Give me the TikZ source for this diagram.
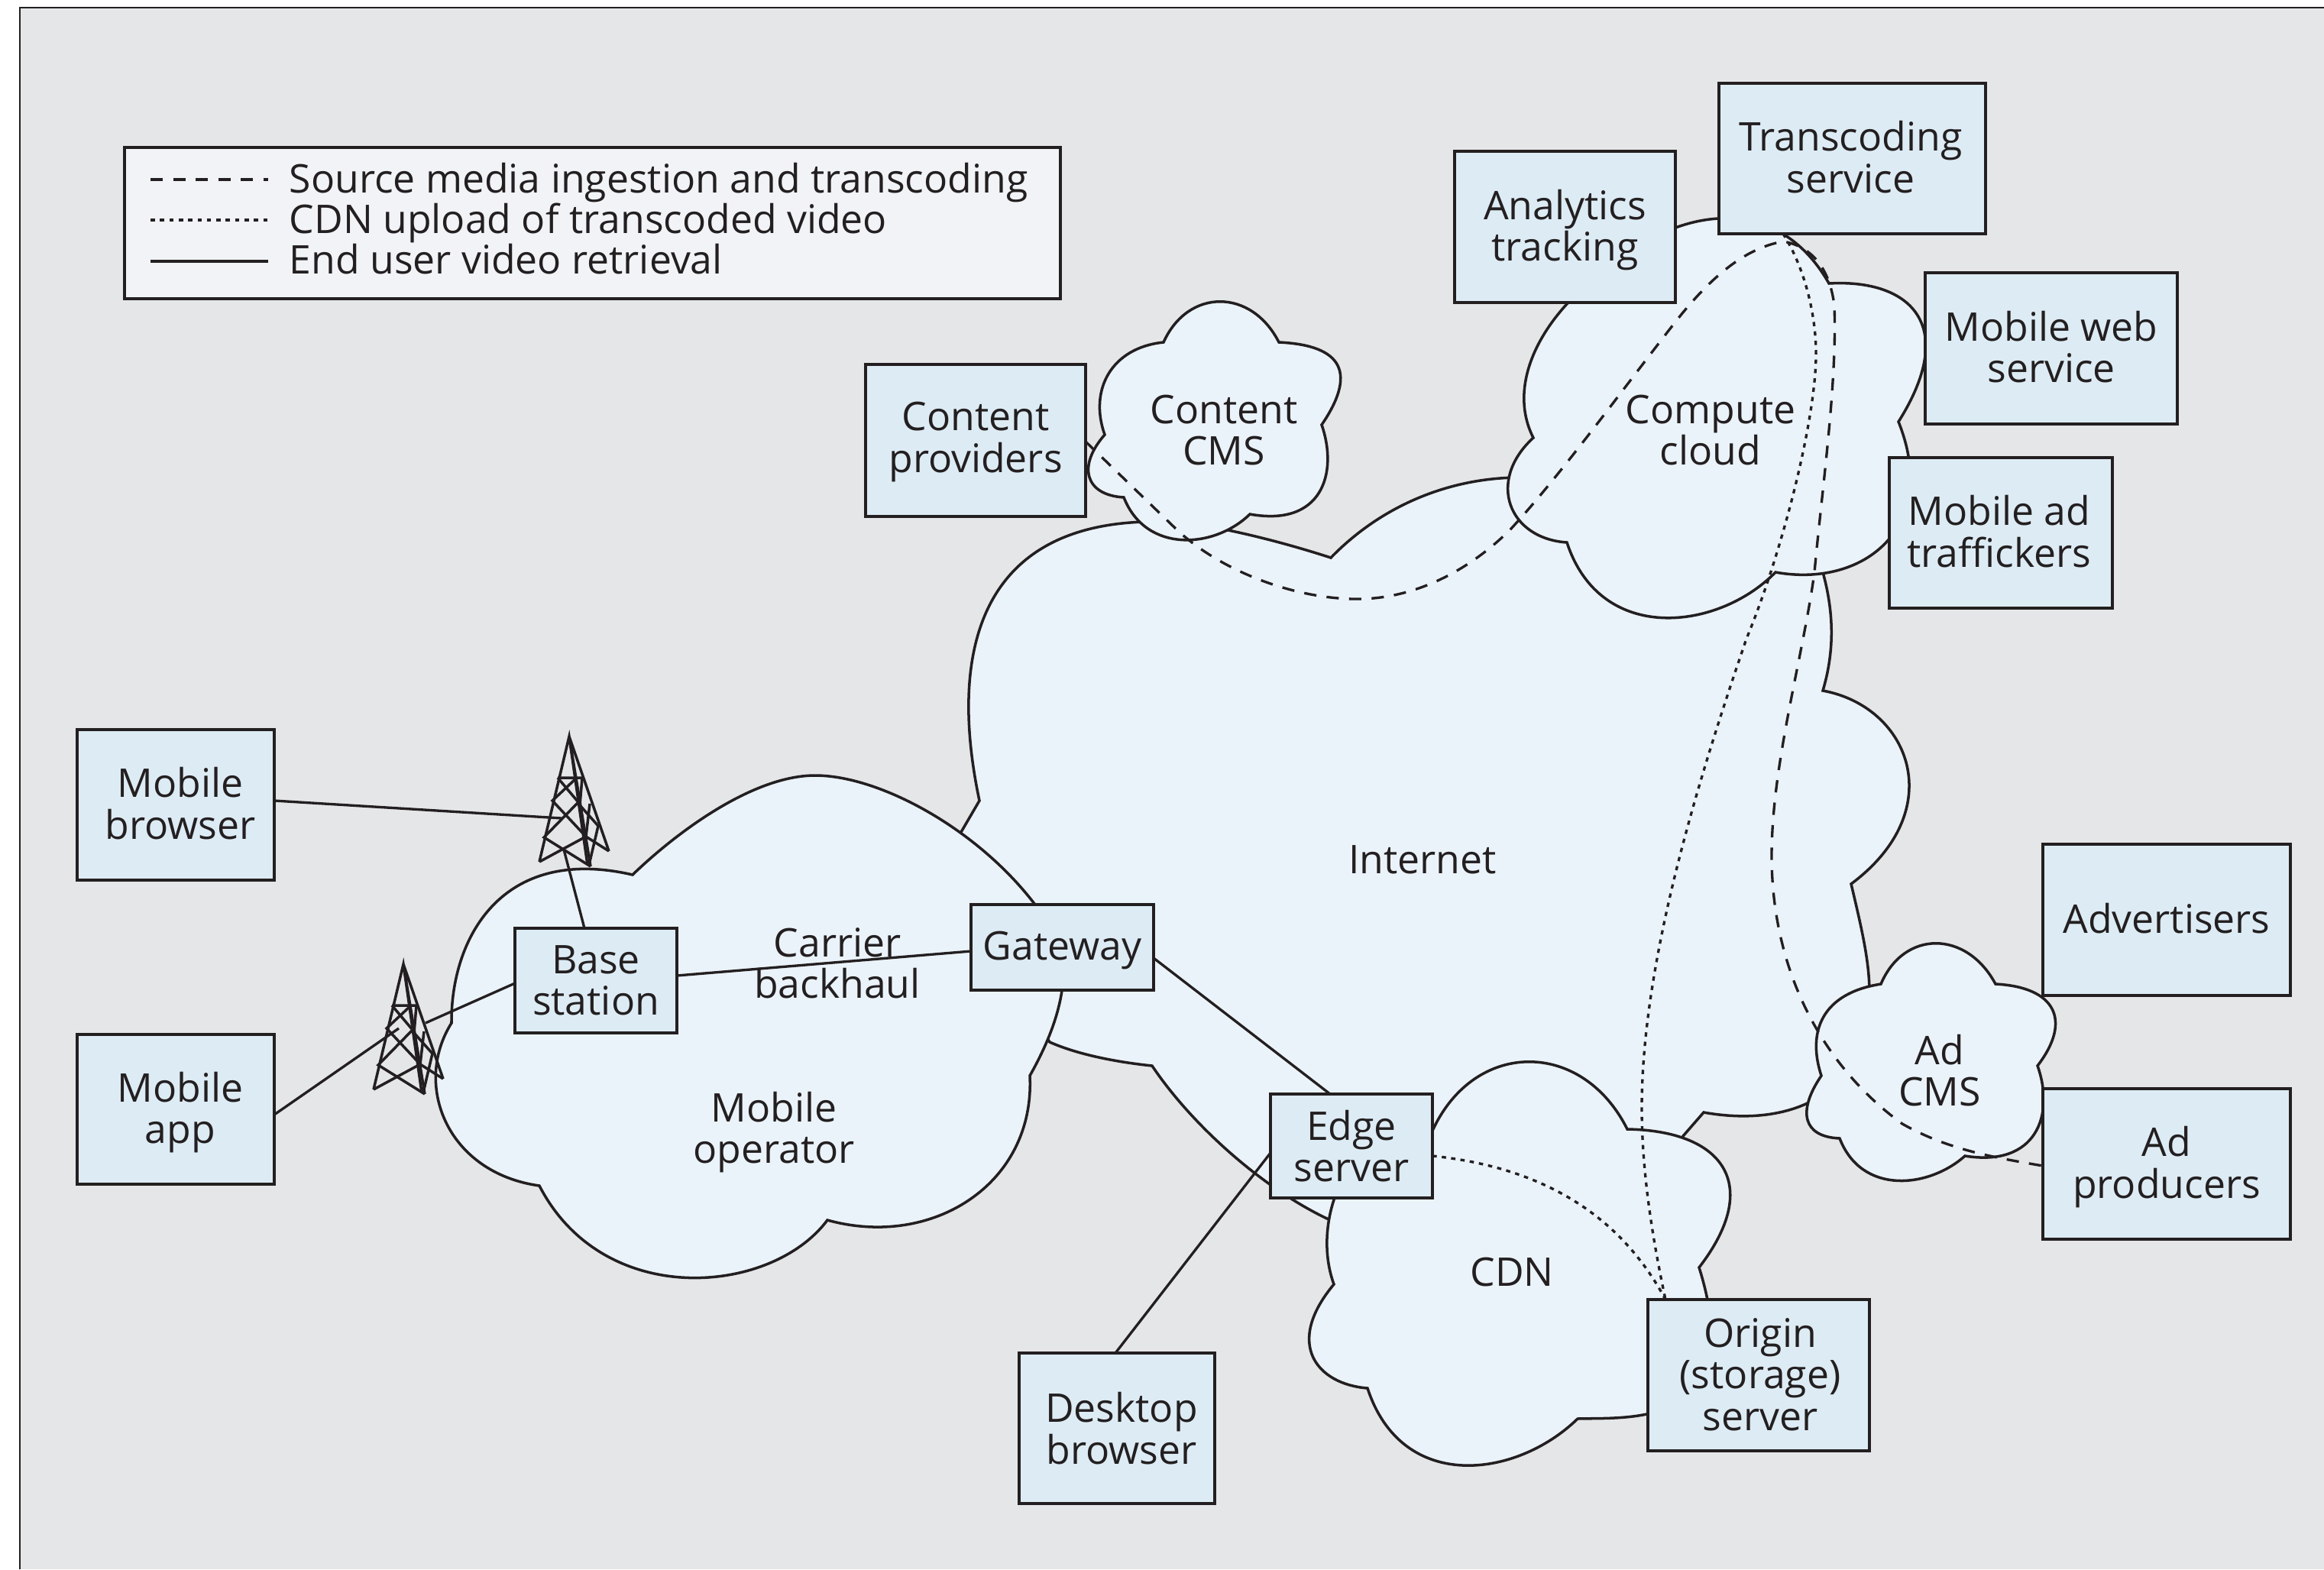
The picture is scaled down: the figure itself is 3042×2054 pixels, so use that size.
\documentclass[tikz,border=0pt]{standalone}
\usepackage{fontspec}
\setmainfont{Open Sans}
\pgfdeclarelayer{cl}\pgfdeclarelayer{conn}
\pgfsetlayers{cl,conn,main}
\definecolor{bgc}{HTML}{E5E6E8}
\definecolor{boxc}{HTML}{DDEBF4}
\definecolor{cloudc}{HTML}{EBF3FA}
\definecolor{legc}{HTML}{F1F3F6}
\definecolor{ink}{HTML}{231F20}
\tikzset{
  x=0.01cm,y=-0.01cm,
  txt/.style={font=\fontsize{14.7}{15.5}\selectfont,text=ink,align=center,inner sep=0pt},
  boxst/.style={draw=ink,fill=boxc,line width=1.15pt,outer sep=0pt,inner sep=0pt},
  cloudst/.style={draw=ink,fill=cloudc,line width=1pt,line join=miter},
  solidln/.style={draw=ink,line width=.95pt},
  dashln/.style={draw=ink,line width=.95pt,dash pattern=on 4.6pt off 3.8pt},
  dotln/.style={draw=ink,line width=.95pt,dash pattern=on 1.6pt off 1.9pt},
  towerln/.style={draw=ink,line width=1pt,line join=miter},
}
\newcommand{\netbox}[8]{\node[boxst,minimum width={(#4-#2)*0.01cm},minimum height={(#5-#3)*0.01cm}] (#1) at ({(#2+#4)/2},{(#3+#5)/2}) {};
\node[txt] (#1t) at ({(#2+#4)/2+#6},{(#3+#5)/2+#7}) {#8};}
\newcommand{\towerdraw}[2]{%
\begin{scope}[shift={(#1,#2)}]
\draw[towerln] (-39,164) -- (0,0) -- (28,170) (0,0) -- (52,150);
\draw[towerln] (0,0) -- (24,168);
\draw[towerln] (-15,54) -- (17,54) (-15,54) -- (12,86) (10,54) -- (-22,84) -- (22,131) -- (-39,164);
\draw[towerln] (12,86) -- (-33,132) -- (28,170);
\draw[towerln] (17,54) -- (14,90) -- (38,117) -- (26,168);
\draw[towerln] (27,88) -- (22,131) -- (52,150);
\end{scope}}
\begin{document}
\begin{tikzpicture}
\useasboundingbox (0,0) rectangle (3042,2054);
\begin{pgfonlayer}{cl}
\fill[white] (0,0) rectangle (3042,2054);
\fill[bgc] (26,10) rectangle (3042,2054);
\draw[ink,line width=.7pt] (26,2054) -- (26,10) -- (3042,10);
% Internet
\draw[cloudst] (1282,1048)
 .. controls (1240,850) and (1280,660) .. (1560,685)
 .. controls (1620,695) and (1680,710) .. (1742,730)
 .. controls (1810,660) and (1900,625) .. (1990,625)
 -- (2386,749)
 .. controls (2400,800) and (2402,850) .. (2386,904)
 .. controls (2500,925) and (2553,1060) .. (2423,1157)
 .. controls (2438,1220) and (2447,1260) .. (2447,1300)
 -- (2400,1420) -- (2370,1442)
 .. controls (2330,1462) and (2280,1465) .. (2230,1456)
 -- (2203,1487) -- (2190,1520) -- (1900,1580) -- (1760,1605)
 .. controls (1670,1570) and (1565,1480) .. (1508,1395)
 .. controls (1460,1390) and (1410,1380) .. (1374,1364)
 -- (1300,1250) -- (1240,1120) -- cycle;
% Mobile operator
\draw[cloudst] (828,1145)
 .. controls (885,1090) and (985,1015) .. (1067,1015)
 .. controls (1165,1015) and (1325,1110) .. (1390,1240)
 .. controls (1400,1300) and (1375,1360) .. (1348,1408)
 .. controls (1355,1550) and (1220,1635) .. (1083,1597)
 .. controls (1010,1695) and (790,1715) .. (706,1552)
 .. controls (585,1535) and (540,1420) .. (591,1339)
 .. controls (590,1230) and (655,1105) .. (828,1145) -- cycle;
% CDN
\draw[cloudst] (1830,1470) -- (1875,1480)
 .. controls (1930,1360) and (2071,1360) .. (2130,1478)
 .. controls (2255,1480) and (2308,1550) .. (2224,1659)
 .. controls (2290,1870) and (2135,1855) .. (2065,1857)
 .. controls (1985,1935) and (1835,1955) .. (1790,1817)
 .. controls (1725,1812) and (1680,1760) .. (1746,1681)
 .. controls (1720,1610) and (1750,1510) .. (1830,1470) -- cycle;
% Ad CMS
\draw[cloudst] (2462,1288)
 .. controls (2492,1217) and (2574,1217) .. (2612,1288)
 .. controls (2690,1292) and (2713,1335) .. (2667,1395)
 .. controls (2690,1460) and (2665,1528) .. (2572,1513)
 .. controls (2525,1555) and (2437,1565) .. (2408,1490)
 .. controls (2360,1488) and (2352,1455) .. (2384,1408)
 .. controls (2365,1350) and (2385,1300) .. (2462,1288) -- cycle;
% Content CMS
\draw[cloudst] (1523,448)
 .. controls (1555,377) and (1638,377) .. (1674,448)
 .. controls (1760,452) and (1775,490) .. (1730,556)
 .. controls (1752,620) and (1730,690) .. (1636,673)
 .. controls (1590,718) and (1500,725) .. (1471,651)
 .. controls (1420,648) and (1410,610) .. (1446,569)
 .. controls (1425,510) and (1455,455) .. (1523,448) -- cycle;
% Compute cloud
\draw[cloudst] (2007,573)
 .. controls (1970,500) and (2020,405) .. (2120,340)
 .. controls (2200,275) and (2325,250) .. (2394,371)
 .. controls (2500,365) and (2565,425) .. (2485,552)
 .. controls (2540,690) and (2440,770) .. (2324,749)
 .. controls (2250,825) and (2095,845) .. (2051,710)
 .. controls (1975,705) and (1945,630) .. (2007,573) -- cycle;
\end{pgfonlayer}
% Boxes
\netbox{tc}{2250}{109}{2599}{306}{-2}{-2}{Transcoding\\service}
\netbox{an}{1904}{198}{2193}{396}{0}{4}{Analytics\\tracking}
\netbox{mw}{2520}{357}{2850}{555}{0}{-2}{Mobile web\\service}
\netbox{ma}{2473}{599}{2765}{796}{-2}{-2}{Mobile ad\\traffickers}
\netbox{cp}{1133}{477}{1421}{676}{0}{2}{Content\\providers}
\netbox{mb}{101}{955}{359}{1152}{6}{-2}{Mobile\\browser}
\netbox{mp}{101}{1354}{359}{1550}{6}{4}{Mobile\\app}
\netbox{bs}{674}{1215}{886}{1352}{0}{0}{Base\\station}
\netbox{gw}{1271}{1184}{1510}{1296}{0}{4}{Gateway}
\netbox{es}{1663}{1432}{1875}{1568}{0}{0}{Edge\\server}
\netbox{db}{1334}{1771}{1590}{1968}{6}{0}{Desktop\\browser}
\netbox{og}{2157}{1701}{2447}{1899}{2}{-1}{Origin\\(storage)\\server}
\netbox{ad}{2674}{1105}{2998}{1303}{0}{-2}{Advertisers}
\netbox{ap}{2674}{1425}{2998}{1622}{0}{4}{Ad\\producers}
% Labels
\node[txt] (linternet) at (1862,1125) {Internet};
\node[txt] (lcompute) at (2239,563) {Compute\\cloud};
\node[txt] (lcms) at (1602,563) {Content\\CMS};
\node[txt] (lback) at (1096,1261) {Carrier\\backhaul};
\node[txt] (lmobile) at (1013,1482) {Mobile\\operator};
\node[txt] (lcdn) at (1979,1665) {CDN};
\node[txt] (ladcms) at (2539,1401) {Ad\\CMS};
% Legend
\node[draw=ink,fill=legc,line width=1.15pt,minimum width=12.25cm,minimum height=1.98cm,inner sep=0pt,outer sep=0pt] (lg) at (775.5,292) {};
\coordinate (lga1) at (197,235); \coordinate (lgb1) at (351,235);
\coordinate (lga2) at (197,288); \coordinate (lgb2) at (351,288);
\coordinate (lga3) at (197,342); \coordinate (lgb3) at (351,342);
\draw[dashln] (lga1) -- (lgb1);
\draw[dotln] (lga2) -- (lgb2);
\draw[solidln] (lga3) -- (lgb3);
\node[txt,anchor=base west] (lgt1) at (378,252) {Source media ingestion and transcoding};
\node[txt,anchor=base west] (lgt2) at (378,305) {CDN upload of transcoded video};
\node[txt,anchor=base west] (lgt3) at (378,358) {End user video retrieval};
% Tower anchor points
\coordinate (t1in) at (735,1071); \coordinate (t1base) at (738,1112);
\coordinate (t2in) at (522,1346); \coordinate (t2out) at (557,1339);
\begin{pgfonlayer}{conn}
\draw[solidln] (mb.east |- 0,1048) -- (t1in);
\draw[solidln] (t1base) -- (bs.north -| 765,0);
\draw[solidln] (mp.east |- 0,1459) -- (t2in);
\draw[solidln] (t2out) -- (bs.west |- 0,1287);
\draw[solidln] (bs.east |- 0,1277) -- (gw.west |- 0,1245);
\draw[solidln] (gw.east |- 0,1254) -- (es.north -| 1741,0);
\draw[solidln] (db.north -| 1460,0) -- (es.west |- 0,1509);
\towerdraw{745}{964}
\towerdraw{528}{1262}
% dashed: content providers over the transcoding service to ad producers
\draw[dashln] (cp.east |- 0,578) -- (1539,692)
 .. controls (1600,750) and (1700,785) .. (1779,784)
 .. controls (1860,783) and (1930,740) .. (1977,693)
 .. controls (2040,625) and (2120,515) .. (2187,429)
 .. controls (2240,360) and (2285,325) .. (2334,316)
 .. controls (2370,322) and (2395,350) .. (2401,400)
 .. controls (2405,500) and (2385,640) .. (2375,749)
 .. controls (2360,860) and (2319,1000) .. (2319,1120)
 .. controls (2319,1270) and (2385,1395) .. (2490,1471)
 .. controls (2550,1505) and (2610,1515) .. (ap.west |- 0,1526);
% dotted: transcoding to origin
\draw[dotln] (tc.south -| 2334,0)
 .. controls (2365,355) and (2378,420) .. (2377,468)
 .. controls (2375,560) and (2330,730) .. (2286,836)
 .. controls (2230,1000) and (2149,1250) .. (2149,1450)
 .. controls (2149,1540) and (2165,1630) .. (og.north -| 2180,0);
% dotted: edge to origin
\draw[dotln] (es.east |- 0,1513) .. controls (1990,1525) and (2110,1570) .. (og.north -| 2180,0);
\end{pgfonlayer}
\end{tikzpicture}
\end{document}
